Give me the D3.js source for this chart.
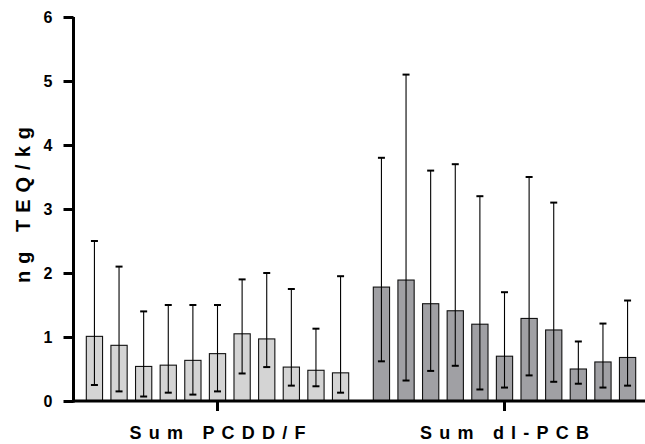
<!DOCTYPE html>
<html>
<head>
<meta charset="utf-8">
<script src="https://cdn.jsdelivr.net/npm/d3@7"></script>
<style>
  html, body { margin: 0; padding: 0; background: #fff; }
  svg { display: block; }
  svg text { font-family: "Liberation Sans", Arial, sans-serif; font-weight: bold; fill: #000; }
</style>
</head>
<body>
<svg id="chart" width="645" height="444"></svg>
<script>
// Groups and their sample bars (mean with lower/upper whiskers, ng TEQ/kg)
const groups = ["Sum PCDD/F", "Sum dl-PCB"];
const samples = d3.range(11);

const pcddMean  = [1.01, 0.87, 0.54, 0.56, 0.635, 0.74, 1.05, 0.97, 0.53, 0.48, 0.44];
const pcddLow   = [0.25, 0.15, 0.07, 0.13, 0.10, 0.15, 0.43, 0.53, 0.24, 0.23, 0.13];
const pcddHigh  = [2.5, 2.1, 1.4, 1.5, 1.5, 1.5, 1.9, 2.0, 1.75, 1.13, 1.95];

const pcbMean   = [1.78, 1.89, 1.52, 1.41, 1.20, 0.70, 1.29, 1.11, 0.50, 0.61, 0.68];
const pcbLow    = [0.62, 0.32, 0.47, 0.55, 0.18, 0.21, 0.40, 0.30, 0.27, 0.21, 0.24];
const pcbHigh   = [3.8, 5.1, 3.6, 3.7, 3.2, 1.7, 3.5, 3.1, 0.93, 1.21, 1.57];

const yTicks = [0, 1, 2, 3, 4, 5, 6];
const yLabel = "ng TEQ/kg";

const fills = { "Sum PCDD/F": "#d4d4d4", "Sum dl-PCB": "#a0a0a4" };

const rows = [];
groups.forEach((g, gi) => {
  const m = gi === 0 ? pcddMean : pcbMean;
  const lo = gi === 0 ? pcddLow : pcbLow;
  const hi = gi === 0 ? pcddHigh : pcbHigh;
  samples.forEach(i => rows.push({ group: g, i, mean: m[i], low: lo[i], high: hi[i] }));
});

const svg = d3.select("#chart");

const x0 = d3.scaleBand().domain(groups).range([74, 648]).padding(0);
const x1 = d3.scaleBand().domain(samples).range([0, x0.bandwidth()])
  .paddingInner(0.34).paddingOuter(0.5);
const y = d3.scaleLinear().domain([0, 6]).range([401, 17]);

// bars
svg.append("g").selectAll("rect").data(rows).join("rect")
  .attr("x", d => x0(d.group) + x1(d.i))
  .attr("y", d => y(d.mean))
  .attr("width", x1.bandwidth())
  .attr("height", d => y(0) - y(d.mean))
  .attr("fill", d => fills[d.group])
  .attr("stroke", "#111")
  .attr("stroke-width", 1.1);

// error bars
const eb = svg.append("g").attr("stroke", "#000");
const cx = d => x0(d.group) + x1(d.i) + x1.bandwidth() / 2;
eb.selectAll("line.v").data(rows).join("line").attr("class", "v")
  .attr("x1", cx).attr("x2", cx)
  .attr("y1", d => y(d.low)).attr("y2", d => y(d.high))
  .attr("stroke-width", 1.1);
["low", "high"].forEach(k => {
  eb.selectAll("line.c" + k).data(rows).join("line").attr("class", "c" + k)
    .attr("x1", d => cx(d) - 3.5).attr("x2", d => cx(d) + 3.5)
    .attr("y1", d => y(d[k])).attr("y2", d => y(d[k]))
    .attr("stroke-width", 2);
});

// y axis
const yAxis = svg.append("g").attr("transform", "translate(73.5,0)")
  .call(d3.axisLeft(y).tickValues(yTicks).tickSize(10).tickPadding(11).tickFormat(d3.format("d")));
yAxis.attr("font-family", null).attr("font-size", null);
yAxis.select(".domain").attr("stroke", "#000").attr("stroke-width", 3)
  .attr("d", `M0,${y(6)}V${y(0) + 1.5}`);
yAxis.selectAll(".tick line").attr("stroke", "#000").attr("stroke-width", 3);
yAxis.selectAll(".tick text").style("font-size", "16px");

// x axis
const xAxis = svg.append("g").attr("transform", `translate(0,${y(0)})`)
  .call(d3.axisBottom(x0).tickSize(10).tickPadding(15));
xAxis.attr("font-family", null).attr("font-size", null);
xAxis.select(".domain").attr("stroke", "#000").attr("stroke-width", 3)
  .attr("d", `M72,0H645`);
xAxis.selectAll(".tick line").attr("stroke", "#000").attr("stroke-width", 3);
xAxis.selectAll(".tick text")
  .style("font-size", "18px")
  .style("letter-spacing", "7.2px")
  .attr("dx", "3.6px");

// y axis title
svg.append("text")
  .attr("transform", `translate(30,205) rotate(-90)`)
  .attr("text-anchor", "middle")
  .attr("dx", "3.5px")
  .style("font-size", "20px")
  .style("letter-spacing", "7px")
  .text(yLabel);
</script>
</body>
</html>
